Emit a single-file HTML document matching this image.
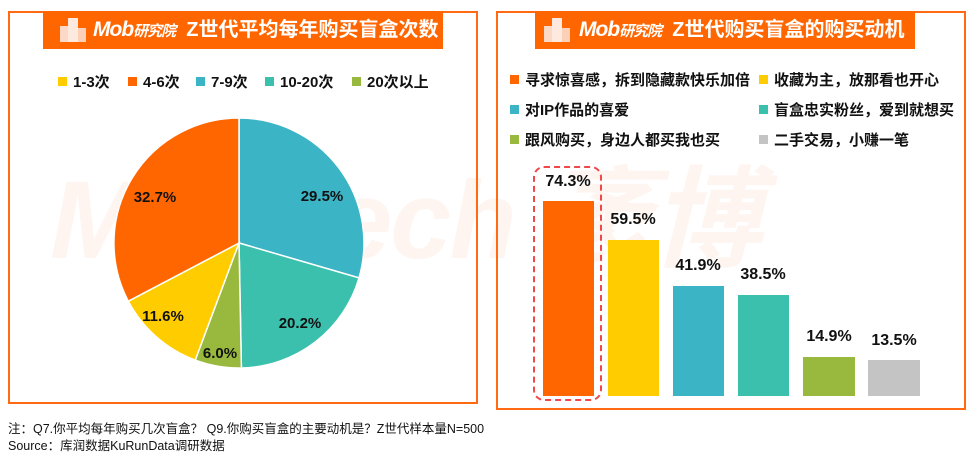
<!DOCTYPE html>
<html><head><meta charset="utf-8"><style>
body{margin:0;width:977px;height:454px;background:#fff;position:relative;overflow:hidden;font-family:"Liberation Sans","Noto Sans CJK SC",sans-serif;}
.panel{position:absolute;border:2px solid #ff6a13;box-sizing:border-box;}
.hdr{position:absolute;background:#ff6600;color:#fff;font-weight:bold;font-size:20px;height:38px;line-height:38px;box-sizing:border-box;}
.hdr .m{font-style:italic;font-size:21px;letter-spacing:-1px}
.hdr .m small{font-size:15px;font-style:italic}
.lg{position:absolute;font-size:15px;font-weight:bold;color:#111;white-space:nowrap}
.sq{display:inline-block;width:9px;height:9px;margin-right:6px;vertical-align:1px}
.bar{position:absolute}
.bl{position:absolute;font-size:16px;font-weight:bold;color:#111;width:70px;text-align:center}
.ft{position:absolute;left:8px;font-size:12.5px;color:#111}
</style></head><body>
<div style="position:absolute;left:50px;top:130px;font-size:110px;font-weight:bold;font-style:italic;color:#fef5f1;white-space:nowrap;letter-spacing:-2px">MobTech 袤博</div>
<div class="panel" style="left:8px;top:11px;width:470px;height:393px"></div>
<div class="panel" style="left:496px;top:11px;width:470px;height:399px"></div>
<div class="hdr" style="left:43px;top:11px;width:400px;padding-left:50px"><span class="m">Mob<small>研究院</small></span>&nbsp; Z世代平均每年购买盲盒次数</div>
<div class="hdr" style="left:535px;top:11px;width:380px;padding-left:44px"><span class="m">Mob<small>研究院</small></span>&nbsp; Z世代购买盲盒的购买动机</div>
<svg style="position:absolute;left:58px;top:16px" width="30" height="28"><rect x="2" y="10" width="8" height="16" fill="#fbd9c6"/><rect x="10" y="2" width="10" height="24" fill="#fde9dd"/><rect x="20" y="12" width="8" height="14" fill="#fbd0b7"/></svg>
<svg style="position:absolute;left:542px;top:16px" width="30" height="28"><rect x="2" y="10" width="8" height="16" fill="#fbd9c6"/><rect x="10" y="2" width="10" height="24" fill="#fde9dd"/><rect x="20" y="12" width="8" height="14" fill="#fbd0b7"/></svg>

<div class="lg" style="left:58px;top:71px"><span class="sq" style="background:#ffcc00"></span>1-3次</div>
<div class="lg" style="left:128px;top:71px"><span class="sq" style="background:#ff6600"></span>4-6次</div>
<div class="lg" style="left:196px;top:71px"><span class="sq" style="background:#3bb4c6"></span>7-9次</div>
<div class="lg" style="left:265px;top:71px"><span class="sq" style="background:#3cc0ae"></span>10-20次</div>
<div class="lg" style="left:352px;top:71px"><span class="sq" style="background:#99b83e"></span>20次以上</div>

<svg style="position:absolute;left:0;top:0" width="490" height="454">
<g stroke="#fff" stroke-width="1.5">
<path d="M239,243 L239,118 A125,125 0 0 1 359,277.9 Z" fill="#3bb4c6"/>
<path d="M239,243 L359,277.9 A125,125 0 0 1 241.4,368 Z" fill="#3cc0ae"/>
<path d="M239,243 L241.4,368 A125,125 0 0 1 195.2,360.1 Z" fill="#99b83e"/>
<path d="M239,243 L195.2,360.1 A125,125 0 0 1 128.3,301.2 Z" fill="#ffcc00"/>
<path d="M239,243 L128.3,301.2 A125,125 0 0 1 239,118 Z" fill="#ff6600"/>
</g>
<g font-size="15" font-weight="bold" fill="#111" text-anchor="middle" font-family="Liberation Sans,sans-serif">
<text x="322" y="201">29.5%</text><text x="300" y="328">20.2%</text><text x="220" y="358">6.0%</text><text x="163" y="321">11.6%</text><text x="155" y="202">32.7%</text>
</g></svg>

<div class="lg" style="left:510px;top:69px"><span class="sq" style="background:#ff6600"></span>寻求惊喜感，拆到隐藏款快乐加倍</div>
<div class="lg" style="left:759px;top:69px"><span class="sq" style="background:#ffcc00"></span>收藏为主，放那看也开心</div>
<div class="lg" style="left:510px;top:99px"><span class="sq" style="background:#3bb4c6"></span>对IP作品的喜爱</div>
<div class="lg" style="left:759px;top:99px"><span class="sq" style="background:#3cc0ae"></span>盲盒忠实粉丝，爱到就想买</div>
<div class="lg" style="left:510px;top:129px"><span class="sq" style="background:#99b83e"></span>跟风购买，身边人都买我也买</div>
<div class="lg" style="left:759px;top:129px"><span class="sq" style="background:#c4c4c4"></span>二手交易，小赚一笔</div>

<div style="position:absolute;left:533px;top:166px;width:69px;height:235px;border:2px dashed #f04848;border-radius:11px;box-sizing:border-box"></div>
<div class="bar" style="left:543px;top:201px;width:51px;height:195px;background:#ff6600"></div>
<div class="bar" style="left:608px;top:240px;width:51px;height:156px;background:#ffcc00"></div>
<div class="bar" style="left:673px;top:286px;width:51px;height:110px;background:#3bb4c6"></div>
<div class="bar" style="left:738px;top:295px;width:51px;height:101px;background:#3cc0ae"></div>
<div class="bar" style="left:803px;top:357px;width:52px;height:39px;background:#99b83e"></div>
<div class="bar" style="left:868px;top:360px;width:52px;height:36px;background:#c4c4c4"></div>
<div class="bl" style="left:533px;top:173px">74.3%</div>
<div class="bl" style="left:598px;top:211px">59.5%</div>
<div class="bl" style="left:663px;top:257px">41.9%</div>
<div class="bl" style="left:728px;top:266px">38.5%</div>
<div class="bl" style="left:794px;top:328px">14.9%</div>
<div class="bl" style="left:859px;top:332px">13.5%</div>

<div class="ft" style="top:418px">注：Q7.你平均每年购买几次盲盒？ Q9.你购买盲盒的主要动机是？Z世代样本量N=500</div>
<div class="ft" style="top:435px">Source：库润数据KuRunData调研数据</div>
</body></html>
